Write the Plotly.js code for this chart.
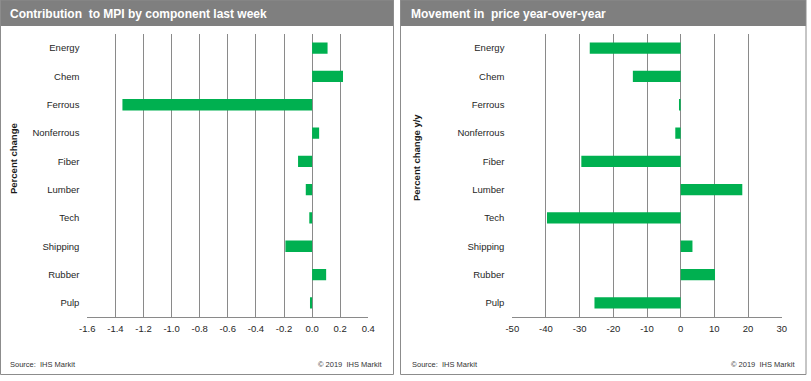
<!DOCTYPE html>
<html>
<head>
<meta charset="utf-8">
<script src="https://cdn.plot.ly/plotly-3.0.1.min.js"></script>
<style>html,body{margin:0;padding:0;background:#fff;}#chart{width:811px;height:381px;}</style>
</head>
<body>
<div id="chart"></div>
<script>
const categories = ['Energy','Chem','Ferrous','Nonferrous','Fiber','Lumber','Tech','Shipping','Rubber','Pulp'];
const contribution = [0.11, 0.22, -1.35, 0.05, -0.10, -0.045, -0.02, -0.19, 0.10, -0.015];
const yoyChange = [-27.0, -14.2, -0.5, -1.6, -29.5, 18.3, -39.7, 3.5, 10.2, -25.6];
const leftTickVals = [-1.6, -1.4, -1.2, -1.0, -0.8, -0.6, -0.4, -0.2, 0.0, 0.2, 0.4];
const leftTickText = ['-1.6','-1.4','-1.2','-1.0','-0.8','-0.6','-0.4','-0.2','0.0','0.2','0.4'];
const rightTickVals = [-50, -40, -30, -20, -10, 0, 10, 20, 30];
const rightTickText = ['-50','-40','-30','-20','-10','0','10','20','30'];
const leftTitle = 'Contribution  to MPI by component last week';
const rightTitle = 'Movement in  price year-over-year';
const leftYTitle = 'Percent change';
const rightYTitle = 'Percent change y/y';
const sourceText = 'Source:  IHS Markit';
const copyText = '\u00A9 2019  IHS Markit';

const W = 811, H = 381;
const px = v => v / W;
const py = v => 1 - v / H;
const green = '#00b050';
const grid = '#8a8a8a';
const tickFont = {family: 'Liberation Sans, Arial, sans-serif', size: 9.5, color: '#262626'};
const boundaries = [];
for (let i = 0; i <= categories.length; i++) boundaries.push(i - 0.5);

const yDomain = [py(317), py(34)];
const leftDom = [px(87.3), px(368.3)];
const rightDom = [px(512.3), px(781.7)];

const data = [
  {type: 'bar', orientation: 'h', x: contribution, y: categories, xaxis: 'x', yaxis: 'y',
   marker: {color: green, line: {width: 0}}, width: 0.4, hoverinfo: 'x+y'},
  {type: 'bar', orientation: 'h', x: yoyChange, y: categories, xaxis: 'x2', yaxis: 'y2',
   marker: {color: green, line: {width: 0}}, width: 0.4, hoverinfo: 'x+y'}
];

function xAxis(dom, anchor, range, vals, text) {
  return {domain: dom, anchor: anchor, range: range, tickmode: 'array', tickvals: vals, ticktext: text,
    showgrid: true, gridcolor: grid, gridwidth: 1, zeroline: false, showline: true, linecolor: grid,
    linewidth: 1, ticks: 'outside', ticklen: 3, tickcolor: 'rgba(0,0,0,0)', tickfont: tickFont, fixedrange: true};
}
function yCat(anchor) {
  return {domain: yDomain, anchor: anchor, type: 'category', categoryorder: 'array', categoryarray: categories,
    range: [categories.length - 0.5, -0.5], showgrid: false, zeroline: false, showline: false,
    ticks: 'outside', ticklen: 5, tickcolor: 'rgba(0,0,0,0)', tickfont: tickFont, fixedrange: true};
}
function yZero(over, pos) {
  return {domain: yDomain, overlaying: over, anchor: 'free', position: pos, type: 'linear',
    range: [categories.length - 0.5, -0.5], tickmode: 'array', tickvals: boundaries,
    ticks: 'outside', ticklen: 4, tickcolor: grid, showline: true, linecolor: grid, linewidth: 1,
    showticklabels: false, showgrid: false, zeroline: false, fixedrange: true};
}

const zeroLeftPos = leftDom[0] + (leftDom[1] - leftDom[0]) * (0 - (-1.6)) / (0.4 - (-1.6));
const zeroRightPos = rightDom[0] + (rightDom[1] - rightDom[0]) * (0 - (-50)) / (30 - (-50));

const titleFont = {family: 'Liberation Sans, Arial, sans-serif', size: 12, color: '#ffffff', weight: 'bold'};
const axTitleFont = {family: 'Liberation Sans, Arial, sans-serif', size: 9.5, color: '#1a1a1a', weight: 'bold'};
const footFont = {family: 'Liberation Sans, Arial, sans-serif', size: 7.5, color: '#333333'};

const layout = {
  width: W, height: H, margin: {l: 0, r: 0, t: 0, b: 0}, paper_bgcolor: '#ffffff', plot_bgcolor: 'rgba(0,0,0,0)',
  showlegend: false, bargap: 0.6,
  xaxis: xAxis(leftDom, 'y', [-1.6, 0.4], leftTickVals, leftTickText),
  yaxis: yCat('x'),
  xaxis2: xAxis(rightDom, 'y2', [-50, 30], rightTickVals, rightTickText),
  yaxis2: yCat('x2'),
  yaxis3: yZero('y', zeroLeftPos),
  yaxis4: yZero('y2', zeroRightPos),
  shapes: [
    {type: 'rect', xref: 'paper', yref: 'paper', x0: px(1), x1: px(393), y0: py(26), y1: py(0), fillcolor: '#7f7f7f', line: {width: 0}, layer: 'below'},
    {type: 'rect', xref: 'paper', yref: 'paper', x0: px(401), x1: px(806), y0: py(26), y1: py(0), fillcolor: '#7f7f7f', line: {width: 0}, layer: 'below'},
    {type: 'rect', xref: 'paper', yref: 'paper', x0: px(0.5), x1: px(393.5), y0: py(374.5), y1: py(0), line: {color: '#8c8c8c', width: 1}, layer: 'below'},
    {type: 'rect', xref: 'paper', yref: 'paper', x0: px(400.5), x1: px(806), y0: py(374.5), y1: py(0), line: {color: '#8c8c8c', width: 1}, layer: 'below'}
  ],
  annotations: [
    {text: leftTitle, xref: 'paper', yref: 'paper', x: px(8), y: py(14), xanchor: 'left', yanchor: 'middle', showarrow: false, font: titleFont},
    {text: rightTitle, xref: 'paper', yref: 'paper', x: px(409), y: py(14), xanchor: 'left', yanchor: 'middle', showarrow: false, font: titleFont},
    {text: leftYTitle, xref: 'paper', yref: 'paper', x: px(14), y: py(159), xanchor: 'center', yanchor: 'middle', textangle: -90, showarrow: false, font: axTitleFont},
    {text: rightYTitle, xref: 'paper', yref: 'paper', x: px(416), y: py(158), xanchor: 'center', yanchor: 'middle', textangle: -90, showarrow: false, font: axTitleFont},
    {text: sourceText, xref: 'paper', yref: 'paper', x: px(8), y: py(364), xanchor: 'left', yanchor: 'middle', showarrow: false, font: footFont},
    {text: copyText, xref: 'paper', yref: 'paper', x: px(384), y: py(364), xanchor: 'right', yanchor: 'middle', showarrow: false, font: footFont},
    {text: sourceText, xref: 'paper', yref: 'paper', x: px(410), y: py(364), xanchor: 'left', yanchor: 'middle', showarrow: false, font: footFont},
    {text: copyText, xref: 'paper', yref: 'paper', x: px(797), y: py(364), xanchor: 'right', yanchor: 'middle', showarrow: false, font: footFont}
  ]
};

Plotly.newPlot('chart', data, layout, {displayModeBar: false, staticPlot: true});
</script>
</body>
</html>
